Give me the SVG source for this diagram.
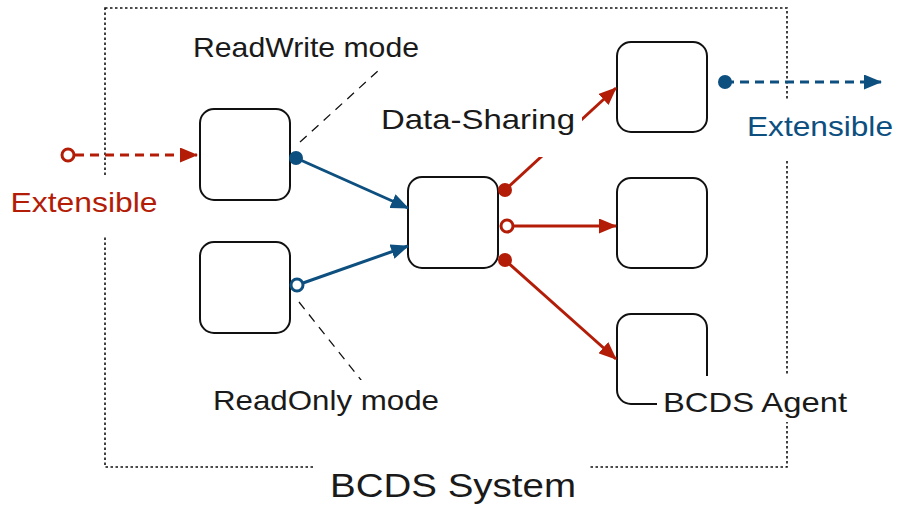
<svg xmlns="http://www.w3.org/2000/svg" width="901" height="517" viewBox="0 0 901 517">
<defs>
<style>
.node{fill:#fff;stroke:#111;stroke-width:2}
.border{fill:none;stroke:#111;stroke-width:1.6;stroke-dasharray:2.5 2.5}
.lbl{font-family:"Liberation Sans",Arial,sans-serif;font-size:28px;fill:#1a1a1a;text-anchor:middle}
.bg{fill:#fff;stroke:none}
.red{stroke:#b31d08;stroke-width:3;fill:none}
.blue{stroke:#0d4f7f;stroke-width:3;fill:none}
.dash{stroke-dasharray:9 6}
.guide{stroke:#111;stroke-width:1.3;stroke-dasharray:9 7;fill:none}
</style>
<marker id="ar" markerUnits="userSpaceOnUse" markerWidth="18" markerHeight="15" refX="17" refY="7.5" orient="auto"><path d="M0,0 L18,7.5 L0,15 z" fill="#b31d08"/></marker>
<marker id="ab" markerUnits="userSpaceOnUse" markerWidth="18" markerHeight="15" refX="17" refY="7.5" orient="auto"><path d="M0,0 L18,7.5 L0,15 z" fill="#0d4f7f"/></marker>
</defs>
<rect width="901" height="517" fill="#fff"/>
<rect class="border" x="105" y="8" width="682" height="459"/>
<g id="guides">
<line class="guide" x1="300" y1="142" x2="390" y2="60"/>
<line class="guide" x1="299" y1="302" x2="365" y2="385"/>
</g>
<g id="nodeRW"><rect class="node" x="200" y="109" width="90" height="91" rx="14"/></g>
<g id="nodeRO"><rect class="node" x="200" y="242" width="90" height="91" rx="14"/></g>
<g id="nodeDS"><rect class="node" x="408" y="177" width="90" height="91" rx="14"/></g>
<g id="nodeT"><rect class="node" x="617" y="42" width="90" height="90" rx="14"/></g>
<g id="nodeM"><rect class="node" x="617" y="178" width="90" height="90" rx="14"/></g>
<g id="nodeAgent"><rect class="node" x="617" y="314" width="90" height="90" rx="14"/></g>
<g id="connectors">
<line class="red dash" x1="75" y1="155" x2="197" y2="155" marker-end="url(#ar)"/>
<circle cx="68" cy="155" r="6" fill="#fff" stroke="#b31d08" stroke-width="3"/>
<line class="blue dash" x1="725" y1="82" x2="881" y2="82" marker-end="url(#ab)"/>
<circle cx="725" cy="82" r="7" fill="#0d4f7f"/>
<line class="blue" x1="296" y1="158" x2="408" y2="208" marker-end="url(#ab)"/>
<circle cx="296" cy="158" r="7" fill="#0d4f7f"/>
<line class="blue" x1="303" y1="283" x2="408" y2="246" marker-end="url(#ab)"/>
<circle cx="297" cy="285" r="6" fill="#fff" stroke="#0d4f7f" stroke-width="3"/>
<line class="red" x1="505" y1="190" x2="616" y2="88" marker-end="url(#ar)"/>
<circle cx="505" cy="190" r="7" fill="#b31d08"/>
<line class="red" x1="513" y1="226" x2="616" y2="226" marker-end="url(#ar)"/>
<circle cx="507" cy="226" r="6" fill="#fff" stroke="#b31d08" stroke-width="3"/>
<line class="red" x1="505" y1="260" x2="616" y2="359" marker-end="url(#ar)"/>
<circle cx="505" cy="260" r="7" fill="#b31d08"/>
</g>
<g id="labels">
<rect class="bg" x="185" y="25" width="242" height="42"/>
<text class="lbl" x="306" y="57" textLength="226" lengthAdjust="spacingAndGlyphs">ReadWrite mode</text>
<rect class="bg" x="374" y="97" width="208" height="60"/>
<text class="lbl" x="478" y="129" textLength="194" lengthAdjust="spacingAndGlyphs">Data-Sharing</text>
<rect class="bg" x="206" y="380" width="241" height="42"/>
<text class="lbl" x="326" y="410" textLength="226" lengthAdjust="spacingAndGlyphs">ReadOnly mode</text>
<rect class="bg" x="657" y="376" width="196" height="46"/>
<text class="lbl" x="755" y="412" textLength="184" lengthAdjust="spacingAndGlyphs">BCDS Agent</text>
<rect class="bg" x="4" y="176" width="160" height="60"/>
<text class="lbl" x="84" y="212" textLength="147" lengthAdjust="spacingAndGlyphs" style="fill:#b31d08">Extensible</text>
<rect class="bg" x="740" y="99" width="158" height="62"/>
<text class="lbl" x="820" y="136" textLength="146" lengthAdjust="spacingAndGlyphs" style="fill:#0d4f7f">Extensible</text>
<rect class="bg" x="314" y="456" width="274" height="58"/>
<text class="lbl" x="453" y="497" textLength="246" lengthAdjust="spacingAndGlyphs" style="font-size:34px">BCDS System</text>
</g>
</svg>
